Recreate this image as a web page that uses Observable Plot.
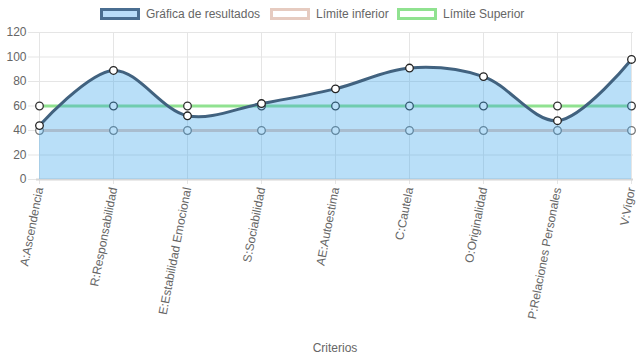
<!DOCTYPE html>
<html><head><meta charset="utf-8">
<script src="https://cdn.jsdelivr.net/npm/d3@7"></script>
<script src="https://cdn.jsdelivr.net/npm/@observablehq/plot@0.6"></script>
<style>
body{margin:0;background:#fff;font-family:"Liberation Sans",Arial,Helvetica,sans-serif;}
#legend{height:24px;position:relative;font-size:12px;color:#666;}
.item{position:absolute;top:8px;display:flex;align-items:center;height:12px;white-space:nowrap;}
.box{width:34px;height:6px;border-width:3px;border-style:solid;margin-right:6px;}
</style></head><body>
<div id="legend"></div>
<div id="chart"></div>
<script>
const categories = ["A:Ascendencia","R:Responsabilidad","E:Estabilidad Emocional","S:Sociabilidad","AE:Autoestima","C:Cautela","O:Originalidad","P:Relaciones Personales","V:Vigor"];
const resultados = [44, 89, 52, 62, 74, 91, 84, 48, 98];
const limiteInferior = [40, 40, 40, 40, 40, 40, 40, 40, 40];
const limiteSuperior = [60, 60, 60, 60, 60, 60, 60, 60, 60];
const yTicks = [0, 20, 40, 60, 80, 100, 120];
const seriesNames = ["Gráfica de resultados", "Límite inferior", "Límite Superior"];

const colors = {
  resFill: "rgba(54,162,235,0.35)",
  resLine: "#41627f",
  inf: "#e6cbc0",
  sup: "#90e290"
};

const res = categories.map((c, i) => ({c, v: resultados[i]}));
const inf = categories.map((c, i) => ({c, v: limiteInferior[i]}));
const sup = categories.map((c, i) => ({c, v: limiteSuperior[i]}));

// legend
const legend = document.getElementById("legend");
const legendItems = [
  {name: seriesNames[0], fill: "rgb(185,221,249)", stroke: "#4a6e91", left: 100},
  {name: seriesNames[1], fill: "#fff", stroke: colors.inf, left: 270},
  {name: seriesNames[2], fill: "#fff", stroke: colors.sup, left: 397}
];
for (const it of legendItems) {
  const d = document.createElement("div");
  d.className = "item";
  d.style.left = it.left + "px";
  d.innerHTML = `<div class="box" style="background:${it.fill};border-color:${it.stroke}"></div><span>${it.name}</span>`;
  legend.appendChild(d);
}

const curve = "catmull-rom";
const chart = Plot.plot({
  width: 637,
  height: 335,
  marginTop: 8,
  marginBottom: 180,
  marginLeft: 36,
  marginRight: 4,
  style: {fontFamily: "'Liberation Sans', Arial, sans-serif", fontSize: "12px", color: "#666"},
  x: {type: "point", domain: categories, padding: 0, range: [36, 633], label: null},
  y: {domain: [0, 120], label: null},
  marks: [
    Plot.gridX(categories, {stroke: "#e5e5e5", strokeOpacity: 1, y1: 0, y2: 120}),
    Plot.gridY(yTicks, {stroke: "#e5e5e5", strokeOpacity: 1}),
    Plot.axisY({ticks: yTicks, tickSize: 8, tickPadding: 2, stroke: "#e5e5e5", fill: "#666", fontSize: 12}),
    Plot.axisX({tickSize: 5, tickPadding: 3, tickRotate: -79, stroke: "#e5e5e5", fill: "#666", fontSize: 12}),
    Plot.ruleY([0], {stroke: "#d6d6d6", strokeWidth: 2}),
    Plot.lineY(inf, {x: "c", y: "v", stroke: colors.inf, strokeWidth: 3}),
    Plot.dot(inf, {x: "c", y: "v", r: 3.8, fill: "#fff", stroke: "#777", strokeWidth: 1.3}),
    Plot.lineY(sup, {x: "c", y: "v", stroke: colors.sup, strokeWidth: 3}),
    Plot.dot(sup, {x: "c", y: "v", r: 3.8, fill: "#fff", stroke: "#333", strokeWidth: 1.3}),
    Plot.areaY(res, {x: "c", y: "v", fill: colors.resFill, curve}),
    Plot.lineY(res, {x: "c", y: "v", stroke: colors.resLine, strokeWidth: 3, curve}),
    Plot.dot(res, {x: "c", y: "v", r: 3.8, fill: "#fff", stroke: "#222", strokeWidth: 1.3}),
    Plot.text(["Criterios"], {frameAnchor: "bottom", dy: 172, fill: "#666", fontSize: 12})
  ]
});
document.getElementById("chart").appendChild(chart);
</script>
</body></html>
